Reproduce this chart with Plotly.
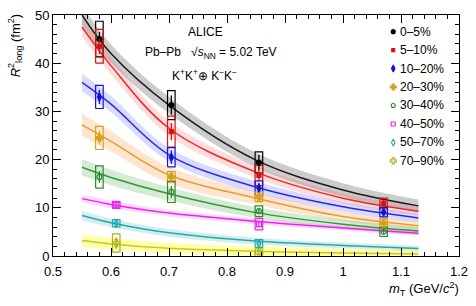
import plotly.graph_objects as go

# ---------------- data ----------------
centralities = ["0–5%", "5–10%", "10–20%", "20–30%", "30–40%", "40–50%", "50–70%", "70–90%"]

mt_c05 = [0.580, 0.704, 0.855]
r2_c05 = [45.0, 31.3, 19.4]
stat_c05 = [1.5, 2.0, 1.6]
syst_c05 = [3.7, 3.0, 2.2]

mt_c510 = [0.580, 0.704, 0.855, 1.070]
r2_c510 = [43.5, 25.8, 16.7, 10.9]
stat_c510 = [1.6, 1.8, 1.3, 0.8]
syst_c510 = [3.5, 3.2, 2.1, 1.1]

mt_c1020 = [0.580, 0.704, 0.855, 1.070]
r2_c1020 = [33.0, 20.5, 14.1, 9.1]
stat_c1020 = [1.5, 1.4, 1.0, 0.7]
syst_c1020 = [2.4, 2.0, 1.5, 1.0]

mt_c2030 = [0.580, 0.704, 0.855, 1.070]
r2_c2030 = [24.5, 16.4, 12.3, 6.8]
stat_c2030 = [1.4, 1.0, 0.7, 0.5]
syst_c2030 = [2.4, 1.1, 1.0, 0.9]

mt_c3040 = [0.580, 0.704, 0.855, 1.070]
r2_c3040 = [16.4, 13.3, 9.3, 5.0]
stat_c3040 = [1.2, 1.2, 0.6, 0.4]
syst_c3040 = [2.3, 2.2, 1.1, 0.95]

mt_c4050 = [0.609, 0.855]
r2_c4050 = [10.6, 6.6]
stat_c4050 = [0.5, 0.5]
syst_c4050 = [0.75, 1.2]

mt_c5070 = [0.609, 0.855]
r2_c5070 = [6.8, 2.6]
stat_c5070 = [0.4, 0.4]
syst_c5070 = [0.75, 0.8]

mt_c7090 = [0.609, 0.855]
r2_c7090 = [2.7, 0.7]
stat_c7090 = [1.2, 0.5]
syst_c7090 = [1.9, 0.8]

mt_fit = [0.55, 0.60, 0.70, 0.85, 1.00, 1.13]
fit_c05 = [50.0, 42.0, 31.3, 19.9, 13.7, 10.4]
fit_c510 = [47.5, 39.5, 26.5, 17.4, 12.0, 9.3]
fit_c1020 = [36.0, 31.5, 21.0, 14.3, 10.2, 7.9]
fit_c2030 = [27.2, 23.8, 16.8, 12.0, 8.2, 6.3]
fit_c3040 = [18.4, 16.3, 12.9, 9.0, 6.6, 5.2]
fit_c4050 = [11.9, 10.7, 8.9, 7.2, 5.8, 4.7]
fit_c5070 = [8.4, 6.9, 4.8, 3.1, 2.2, 1.55]
fit_c7090 = [3.2, 2.5, 1.6, 1.0, 0.6, 0.4]

# fit uncertainty band half-widths
band_c05 = [2.0, 1.9, 1.7, 1.5, 1.4, 1.3]
band_c510 = [2.0, 1.8, 1.5, 1.2, 1.0, 0.9]
band_c1020 = [1.8, 1.7, 1.4, 1.2, 1.0, 0.9]
band_c2030 = [2.3, 2.1, 1.7, 1.3, 1.0, 0.9]
band_c3040 = [1.7, 1.6, 1.4, 1.1, 0.9, 0.8]
band_c4050 = [0.8, 0.8, 0.7, 0.6, 0.5, 0.5]
band_c5070 = [1.0, 0.9, 0.8, 0.7, 0.6, 0.6]
band_c7090 = [1.3, 1.2, 1.1, 1.0, 0.9, 0.9]

x_ticks = [0.5, 0.6, 0.7, 0.8, 0.9, 1.0, 1.1, 1.2]
y_ticks = [0, 10, 20, 30, 40, 50]

# ---------------- styles ----------------
series = [
    (mt_c05, r2_c05, stat_c05, syst_c05, fit_c05, band_c05),
    (mt_c510, r2_c510, stat_c510, syst_c510, fit_c510, band_c510),
    (mt_c1020, r2_c1020, stat_c1020, syst_c1020, fit_c1020, band_c1020),
    (mt_c2030, r2_c2030, stat_c2030, syst_c2030, fit_c2030, band_c2030),
    (mt_c3040, r2_c3040, stat_c3040, syst_c3040, fit_c3040, band_c3040),
    (mt_c4050, r2_c4050, stat_c4050, syst_c4050, fit_c4050, band_c4050),
    (mt_c5070, r2_c5070, stat_c5070, syst_c5070, fit_c5070, band_c5070),
    (mt_c7090, r2_c7090, stat_c7090, syst_c7090, fit_c7090, band_c7090),
]
line_colors = ["#1a1a1a", "#e82a2a", "#2a2aee", "#e3a030", "#339933", "#ee22ee", "#2aa8a8", "#c8c81e"]
mark_colors = ["#000000", "#dd1111", "#1111dd", "#d9a020", "#2a8a2a", "#ee22ee", "#22aaaa", "#b0b020"]
band_colors = ["rgba(0,0,0,0.20)", "rgba(240,60,60,0.18)", "rgba(70,70,255,0.20)",
               "rgba(250,150,70,0.25)", "rgba(50,150,50,0.20)", "rgba(255,60,255,0.18)",
               "rgba(50,180,180,0.22)", "rgba(255,255,40,0.40)"]
symbols = ["circle", "square", "diamond-tall", "cross", "circle-open", "square-open",
           "diamond-tall-open", "cross-open"]
sizes = [5, 4, 6, 6, 5, 5, 6, 6]
box_hw = 0.0065
FONT = "Liberation Sans, Arial, Helvetica, sans-serif"

fig = go.Figure()

# bands
for (mt, r2, st, sy, fit, band), bc in zip(series, band_colors):
    fig.add_trace(go.Scatter(x=mt_fit, y=[f + b for f, b in zip(fit, band)], mode="lines",
                             line=dict(width=0, shape="spline"), showlegend=False, hoverinfo="skip"))
    fig.add_trace(go.Scatter(x=mt_fit, y=[f - b for f, b in zip(fit, band)], mode="lines",
                             line=dict(width=0, shape="spline"), fill="tonexty", fillcolor=bc,
                             showlegend=False, hoverinfo="skip"))
# fit lines
for (mt, r2, st, sy, fit, band), lc in zip(series, line_colors):
    fig.add_trace(go.Scatter(x=mt_fit, y=fit, mode="lines", line=dict(color=lc, width=1.5, shape="spline"),
                             showlegend=False, hoverinfo="skip"))
# systematic boxes
for (mt, r2, st, sy, fit, band), mc in zip(series, mark_colors):
    bx, by = [], []
    for x, y, s in zip(mt, r2, sy):
        bx += [x - box_hw, x + box_hw, x + box_hw, x - box_hw, x - box_hw, None]
        by += [y - s, y - s, y + s, y + s, y - s, None]
    fig.add_trace(go.Scatter(x=bx, y=by, mode="lines", line=dict(color=mc, width=1.2),
                             showlegend=False, hoverinfo="skip"))
# points with stat errors
for (mt, r2, st, sy, fit, band), mc, sym, sz, name in zip(series, mark_colors, symbols, sizes, centralities):
    fig.add_trace(go.Scatter(x=mt, y=r2, mode="markers", name=name,
                             marker=dict(color=mc, symbol=sym, size=sz, line=dict(color=mc, width=1.2)),
                             error_y=dict(type="data", array=st, color=mc, thickness=1.3, width=0),
                             showlegend=False))

# manual legend (overlay axes spanning plot area, 0..1)
leg_x_marker = 0.838
leg_x_text = 0.849
leg_top = 0.931
leg_step = 0.0766
for i, (name, mc, sym, sz) in enumerate(zip(centralities, mark_colors, symbols, sizes)):
    yy = leg_top - i * leg_step
    fig.add_trace(go.Scatter(x=[leg_x_marker], y=[yy], xaxis="x2", yaxis="y2", mode="markers",
                             marker=dict(color=mc, symbol=sym, size=sz - 1, line=dict(color=mc, width=1.1)),
                             showlegend=False, hoverinfo="skip"))
    fig.add_annotation(x=leg_x_text, y=yy, xref="paper", yref="paper", text=name, showarrow=False,
                       xanchor="left", yanchor="middle", font=dict(family=FONT, size=12, color="black"))

# text labels
fig.add_annotation(x=0.376, y=0.928, xref="paper", yref="paper", text="ALICE", showarrow=False,
                   xanchor="center", yanchor="middle", font=dict(family=FONT, size=12, color="black"))
fig.add_annotation(x=0.221, y=0.843, xref="paper", yref="paper",
                   text="Pb–Pb   √<i>s</i><sub>NN</sub> = 5.02 TeV", showarrow=False,
                   xanchor="left", yanchor="middle", font=dict(family=FONT, size=12, color="black"))
fig.add_annotation(x=0.372, y=0.750, xref="paper", yref="paper",
                   text="K<sup>+</sup>K<sup>+</sup>⊕ K<sup>−</sup>K<sup>−</sup>", showarrow=False,
                   xanchor="center", yanchor="middle", font=dict(family=FONT, size=12, color="black"))
# axis titles
fig.add_annotation(x=1.005, y=-0.135, xref="paper", yref="paper",
                   text="<i>m</i><sub>T</sub> (GeV/<i>c</i><sup>2</sup>)", showarrow=False,
                   xanchor="right", yanchor="middle", font=dict(family=FONT, size=13, color="black"))
fig.add_annotation(x=-0.093, y=1.01, xref="paper", yref="paper",
                   text="<i>R</i><sup>2</sup><sub>long</sub> (fm<sup>2</sup>)", showarrow=False,
                   textangle=-90, xanchor="center", yanchor="top",
                   font=dict(family=FONT, size=13, color="black"))

axis_common = dict(showline=True, linecolor="black", linewidth=1, mirror="ticks", ticks="inside",
                   ticklen=8, tickwidth=1, tickcolor="black", showgrid=False, zeroline=False,
                   tickfont=dict(family=FONT, size=13, color="black"))
fig.update_layout(
    width=476, height=306,
    margin=dict(l=53, r=14, t=8, b=50),
    paper_bgcolor="white", plot_bgcolor="white",
    showlegend=False,
    xaxis=dict(range=[0.5, 1.2], tickvals=x_ticks, ticktext=[f"{v:g}" for v in x_ticks],
               ticklabelstandoff=3,
               minor=dict(ticks="inside", ticklen=4, dtick=0.02, tickcolor="black", showgrid=False),
               **axis_common),
    yaxis=dict(range=[0, 50], tickvals=y_ticks,
               minor=dict(ticks="inside", ticklen=4, dtick=2, tickcolor="black", showgrid=False),
               **axis_common),
    xaxis2=dict(overlaying="x", range=[0, 1], visible=False, fixedrange=True),
    yaxis2=dict(overlaying="y", range=[0, 1], visible=False, fixedrange=True),
)

fig.write_html("out.html", config={"displayModeBar": False},
               post_script="document.body.style.margin='0px';document.body.style.overflow='hidden';")
